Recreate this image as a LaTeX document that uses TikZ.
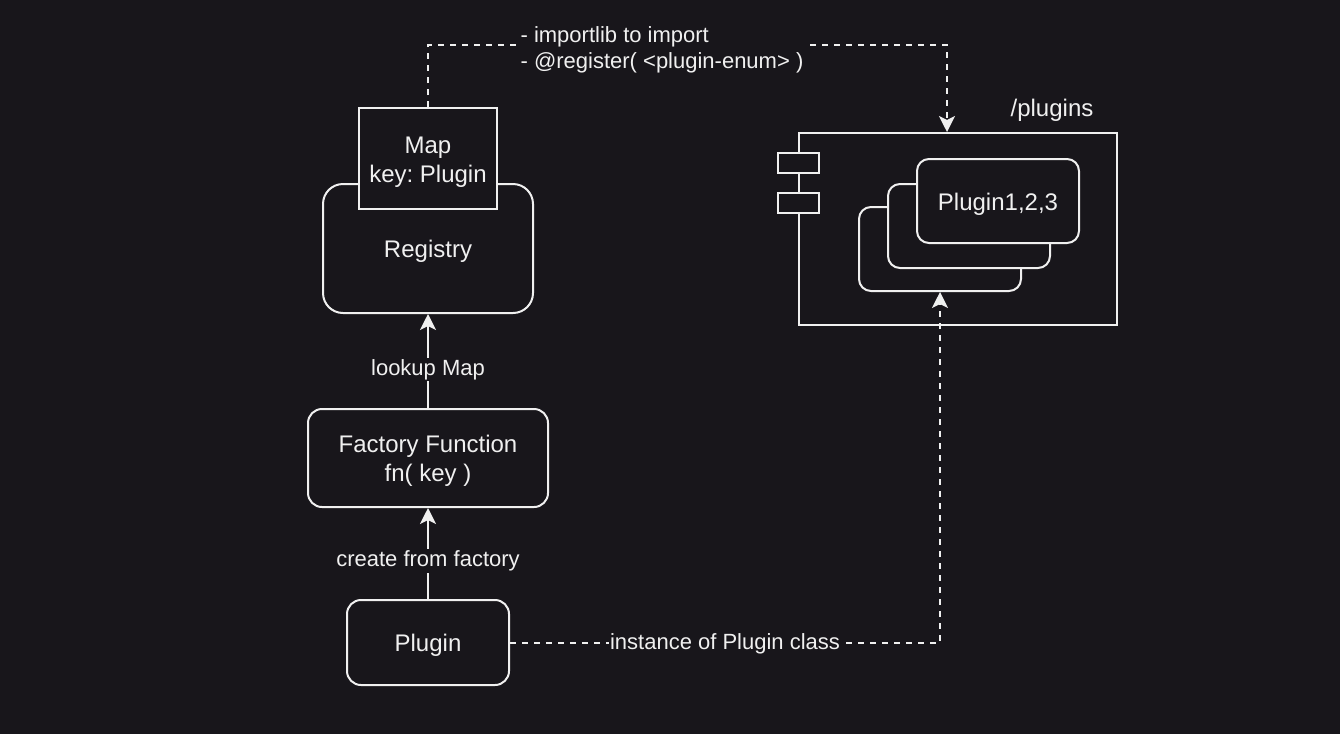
\documentclass[tikz,border=0pt]{standalone}
\usepackage{fontspec}
\setmainfont{Liberation Sans}
\usepackage{tikz}
\usepackage{xcolor}
\usetikzlibrary{arrows.meta, positioning}
\frenchspacing
\definecolor{bgdark}{RGB}{24,22,27}
\definecolor{ink}{RGB}{240,240,240}
\newcommand{\liftline}{\rule{0pt}{23.5pt}} % teks turun sedikit
\tikzset{
    roundbox/.style={
        rectangle,
        draw=ink,
        fill=bgdark,
        line width=2pt,
        rounded corners=14pt,
        align=center,
        text=ink,
        font=\fontsize{24}{29}\selectfont
    },
    plainbox/.style={
        rectangle,
        draw=ink,
        fill=bgdark,
        line width=2pt,
        align=center,
        text=ink,
        font=\fontsize{24}{29}\selectfont
    },
    edgelabel/.style={
        fill=bgdark,
        text=ink,
        inner sep=1.5pt,
        font=\fontsize{22}{26}\selectfont % label lebih kecil
    },
    lookuparrow/.style={-{Stealth[length=16pt, width=16pt, inset=4pt]}, draw=ink, line width=2pt},
    dashflow/.style={lookuparrow, dash pattern=on 6pt off 6pt}
}

\begin{document}
\begin{tikzpicture}[x=1pt, y=-1pt]

    % background
    \fill[bgdark] (0,0) rectangle (1340,734);
    \useasboundingbox (0,0) rectangle (1340,734);

    \node[roundbox, rounded corners=20pt, minimum width=210pt, minimum height=129pt] (registry) at (428,248.5) {\liftline Registry};
    \node[plainbox, minimum width=138pt, minimum height=101pt] (map) at (428,158.5) {\liftline Map\\key: Plugin};
    \node[roundbox, minimum width=240pt, minimum height=98pt] (factory) at (428,458) {\liftline Factory Function\\fn( key )};
    \node[roundbox, minimum width=162pt, minimum height=85pt] (plugin) at (428,642.5) {\liftline Plugin};

    \node[plainbox, minimum width=318pt, minimum height=192pt] (plugdir) at (958,229) {};
    \node[plainbox, minimum width=41pt, minimum height=20pt, inner sep=0pt] (port1) at (798.5,163) {};
    \node[plainbox, minimum width=41pt, minimum height=20pt, inner sep=0pt] (port2) at (798.5,203) {};
    \node[text=ink, font=\fontsize{24}{29}\selectfont, inner sep=0pt] (plugdirlabel) at (1052,110) {/plugins};

    \node[roundbox, rounded corners=12pt, minimum width=162pt, minimum height=84pt] (card3) at (940,249) {};
    \node[roundbox, rounded corners=12pt, minimum width=162pt, minimum height=84pt] (card2) at (969,226) {};
    \node[roundbox, rounded corners=12pt, minimum width=162pt, minimum height=84pt] (card1) at (998,201) {\liftline Plugin1,2,3};

    \draw[lookuparrow]
        (factory.north) -- node[edgelabel, pos=0.44, yshift=-3pt] (lookuplbl) {lookup Map} (registry.south);

    \draw[lookuparrow]
        (plugin.north) -- node[edgelabel, pos=0.45, yshift=-3pt] (createlbl) {create from factory} (factory.south);

    \draw[dashflow]
        (map.north) -- ++(0,-62) -| ([xshift=-11pt]plugdir.north);
    \node[edgelabel, align=left, inner sep=1pt] (importlbl) at (662,50) {- importlib to import\\- @register( <plugin-enum> )};

    \draw[dashflow]
        (plugin.east) -| node[edgelabel, pos=0.25, yshift=-1pt] (instancelbl) {instance of Plugin class} (card3.south);

\end{tikzpicture}
\end{document}
